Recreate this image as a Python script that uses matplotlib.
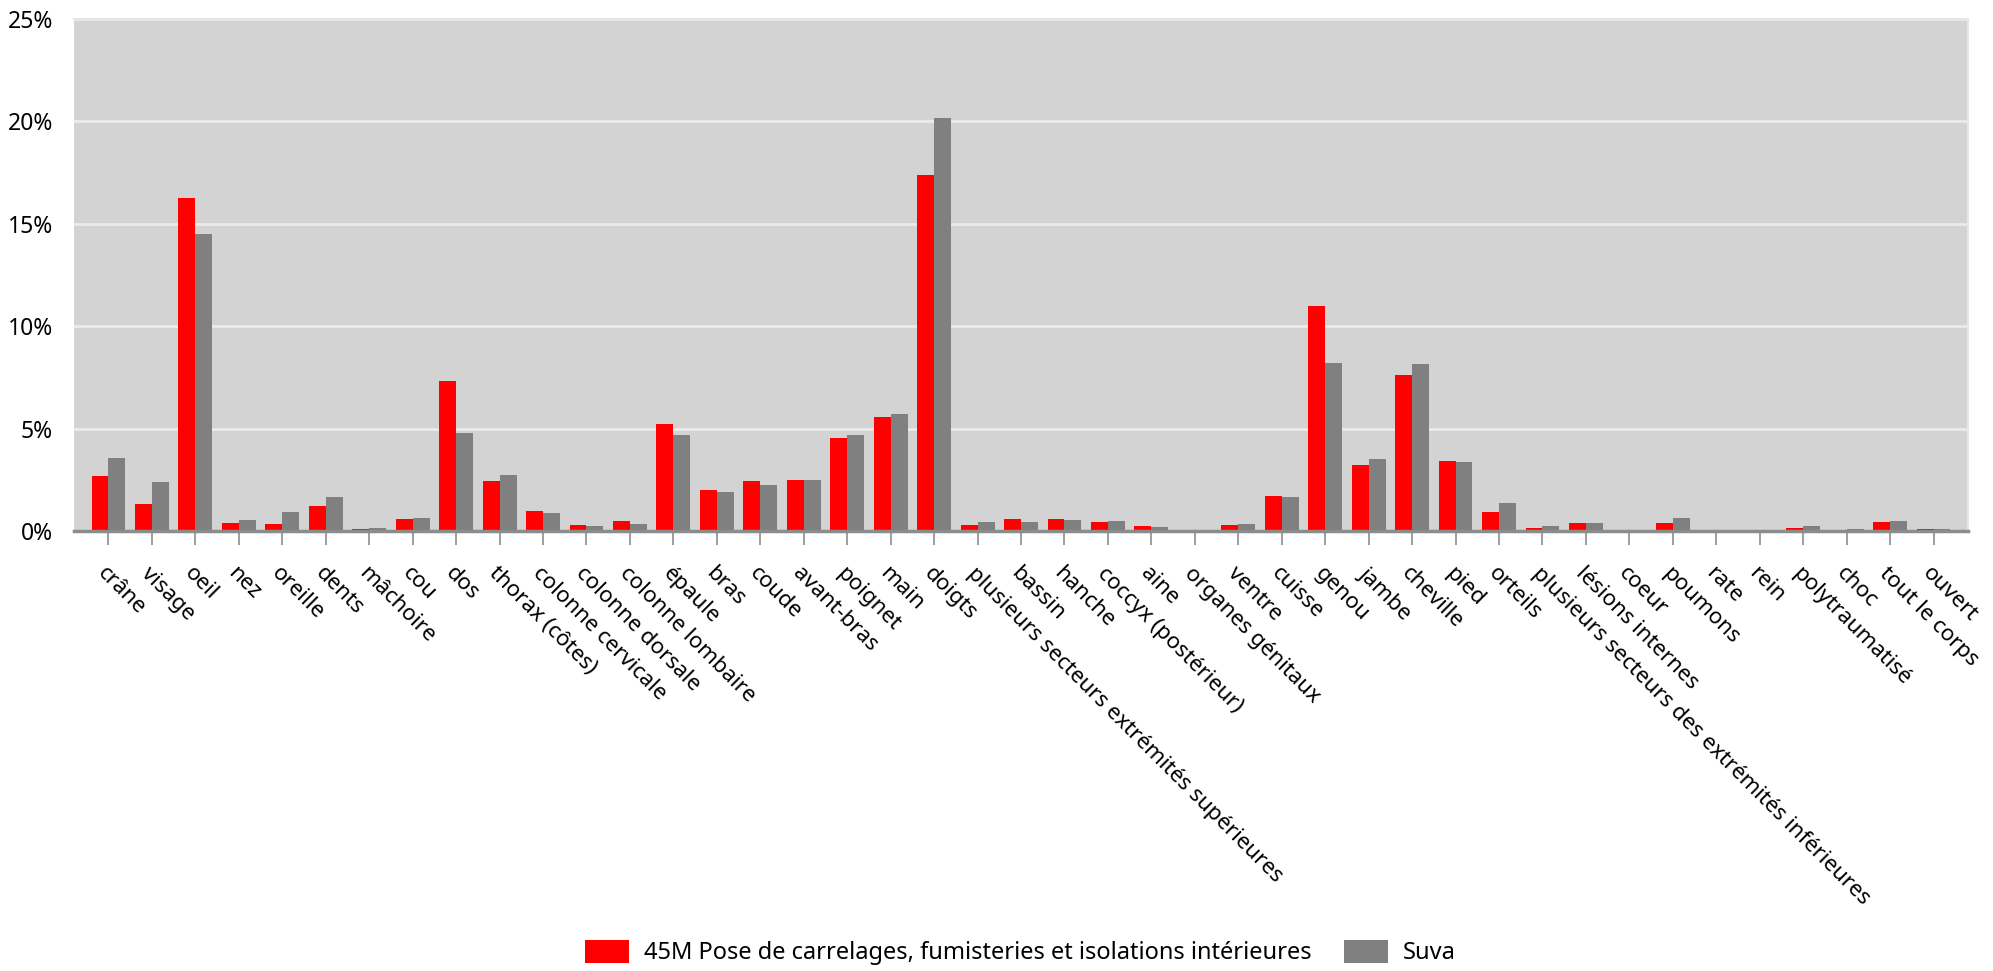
import numpy as np
import matplotlib.pyplot as plt
from matplotlib.ticker import FuncFormatter

plt.rcParams['font.family'] = ['Noto Sans', 'DejaVu Sans']

categories = ["crâne", "visage", "oeil", "nez", "oreille", "dents", "mâchoire", "cou", "dos",
              "thorax (côtes)", "colonne cervicale", "colonne dorsale", "colonne lombaire",
              "épaule", "bras", "coude", "avant-bras", "poignet", "main", "doigts",
              "plusieurs secteurs extrémités supérieures", "bassin", "hanche",
              "coccyx (postérieur)", "aine", "organes génitaux", "ventre", "cuisse", "genou",
              "jambe", "cheville", "pied", "orteils",
              "plusieurs secteurs des extrémités inférieures", "lésions internes", "coeur",
              "poumons", "rate", "rein", "polytraumatisé", "choc", "tout le corps", "ouvert"]

branche = [2.68, 1.34, 16.25, 0.40, 0.35, 1.22, 0.10, 0.61, 7.35, 2.44, 0.96, 0.28, 0.51,
           5.23, 1.99, 2.42, 2.49, 4.55, 5.59, 17.40, 0.31, 0.59, 0.61, 0.45, 0.23, 0.03,
           0.28, 1.71, 10.98, 3.21, 7.61, 3.41, 0.94, 0.16, 0.40, 0.0, 0.40, 0.0, 0.0,
           0.16, 0.0, 0.44, 0.10]
suva = [3.57, 2.39, 14.49, 0.54, 0.92, 1.64, 0.17, 0.63, 4.79, 2.72, 0.89, 0.24, 0.35,
        4.69, 1.90, 2.26, 2.49, 4.67, 5.71, 20.19, 0.42, 0.42, 0.54, 0.47, 0.19, 0.05,
        0.33, 1.67, 8.21, 3.50, 8.14, 3.36, 1.38, 0.24, 0.37, 0.02, 0.66, 0.01, 0.01,
        0.26, 0.12, 0.49, 0.09]

label_a = "45M Pose de carrelages, fumisteries et isolations intérieures"
label_b = "Suva"

fig = plt.figure(figsize=(19.93, 9.71), dpi=100)
ax = fig.add_axes([0.0371, 0.4531, 0.9504, 0.5273])
ax.set_facecolor('#d3d3d3')

x = np.arange(len(categories))
w = 0.39
ax.bar(x - w/2, branche, w, color='#ff0000', label=label_a, zorder=3)
ax.bar(x + w/2, suva, w, color='#808080', label=label_b, zorder=3)

ax.set_xlim(-0.795, len(categories) - 1 + 0.795)
ax.set_ylim(0, 25)
ax.set_yticks([0, 5, 10, 15, 20, 25])
ax.yaxis.set_major_formatter(FuncFormatter(lambda v, p: f"{v:.0f}%"))
ax.grid(axis='y', color='#ebebeb', linewidth=2, zorder=1)
ax.tick_params(axis='y', length=0, pad=15, labelsize=16.5)

ax.set_xticks(x)
ax.set_xticklabels(categories, rotation=-45, ha='left', va='top', rotation_mode='anchor',
                   fontsize=16)
ax.tick_params(axis='x', length=10, width=1.2, color='#8c8c8c', pad=13)

for s in ['top', 'right']:
    ax.spines[s].set_color('#e6e6e6')
    ax.spines[s].set_linewidth(1.5)
ax.spines['left'].set_visible(False)
ax.spines['bottom'].set_color('#8c8c8c')
ax.spines['bottom'].set_linewidth(2.5)
ax.spines['bottom'].set_zorder(4)

fig.legend(loc='center', bbox_to_anchor=(0.512, 0.019), ncol=2, frameon=False,
           fontsize=17, handlelength=1.86, handleheight=1.14, columnspacing=1.35,
           handletextpad=0.65)

fig.savefig('out.png', dpi=100)
